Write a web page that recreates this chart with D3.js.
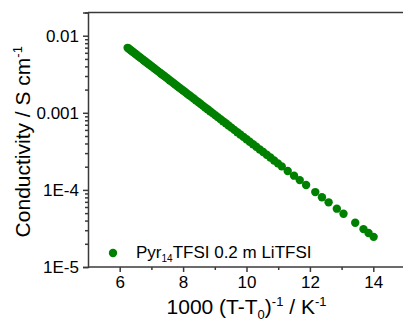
<!DOCTYPE html>
<html>
<head>
<meta charset="utf-8">
<script src="https://cdn.jsdelivr.net/npm/d3@7"></script>
<style>
  html, body { margin: 0; padding: 0; background: #fff; }
  svg { display: block; font-family: Arial, "Liberation Sans", sans-serif; }
</style>
</head>
<body>
<svg id="chart" width="403" height="322"></svg>
<script>
// Conductivity of Pyr14TFSI + 0.2 m LiTFSI vs. reciprocal (T - T0)
const invTemp = [
  6.250, 6.289, 6.329, 6.369, 6.410, 6.452, 6.494, 6.536, 6.579, 6.623,
  6.667, 6.711, 6.757, 6.803, 6.849, 6.897, 6.944, 6.993, 7.042, 7.092,
  7.143, 7.194, 7.246, 7.299, 7.353, 7.407, 7.463, 7.519, 7.576, 7.634,
  7.692, 7.752, 7.813, 7.874, 7.937, 8.000, 8.065, 8.130, 8.197, 8.264,
  8.333, 8.403, 8.475, 8.547, 8.621, 8.696, 8.772, 8.850, 8.929, 9.009,
  9.091, 9.174, 9.259, 9.346, 9.434, 9.524, 9.615, 9.709, 9.804, 9.901,
  10.000, 10.101, 10.204, 10.309, 10.417, 10.526, 10.638, 10.753, 10.870, 10.989,
  11.111, 11.30, 11.50, 11.68, 11.88, 12.17, 12.38, 12.59, 12.85,
  13.06, 13.43, 13.69, 13.85, 14.01
];
const conductivity = [
  0.00696, 0.00676, 0.00657, 0.00638, 0.00619, 0.00601, 0.00582, 0.00565, 0.00547, 0.00530,
  0.00514, 0.00497, 0.00481, 0.00465, 0.00450, 0.00434, 0.00420, 0.00405, 0.00391, 0.00377,
  0.00363, 0.00350, 0.00337, 0.00324, 0.00312, 0.00300, 0.00288, 0.00276, 0.00265, 0.00254,
  0.00244, 0.00233, 0.00223, 0.00213, 0.00204, 0.00195, 0.00186, 0.00177, 0.00169, 0.00161,
  0.00153, 0.00145, 0.00138, 0.00131, 0.00124, 0.00117, 0.00111, 0.00105, 0.000990, 0.000934,
  0.000880, 0.000829, 0.000779, 0.000731, 0.000686, 0.000642, 0.000601, 0.000561, 0.000524, 0.000488,
  0.000454, 0.000422, 0.000392, 0.000363, 0.000335, 0.000310, 0.000286, 0.000263, 0.000241, 0.000221,
  0.000202, 0.000176, 0.000153, 0.000134, 0.000116, 9.37e-5, 8.04e-5, 6.90e-5, 5.71e-5,
  4.90e-5, 3.75e-5, 3.10e-5, 2.76e-5, 2.46e-5
];
const xTicks = [6, 8, 10, 12, 14];
const xMinorTicks = [7, 9, 11, 13];
const yTicks = [1e-5, 1e-4, 1e-3, 1e-2];
const yTickLabels = ["1E-5", "1E-4", "0.001", "0.01"];

const svg = d3.select("#chart");
const margin = { left: 88, top: 12.5, right: -2, bottom: 55 };
const W = 403, H = 322;

const x = d3.scaleLinear().domain([5, 15]).range([margin.left, W - margin.right]);
const y = d3.scaleLog().domain([1e-5, 0.02]).range([H - margin.bottom, margin.top]);

const axisColor = "#3a3a3a";
const green = "#008000";

// frame: top line
svg.append("line")
  .attr("x1", margin.left).attr("x2", W)
  .attr("y1", margin.top).attr("y2", margin.top)
  .attr("stroke", axisColor).attr("stroke-width", 1.5);

// x axis
const xAxis = svg.append("g").attr("transform", `translate(0,${H - margin.bottom})`);
xAxis.call(d3.axisBottom(x).tickValues(xTicks).tickSize(5).tickPadding(4).tickFormat(d3.format("d")));
xAxis.append("g").call(d3.axisBottom(x).tickValues(xMinorTicks).tickSize(3).tickFormat(""))
  .select(".domain").remove();
xAxis.select(".domain").attr("d", `M${margin.left},0H${W + 5}`);

// y axis with minor ticks at 2..9 per decade
const minorY = [];
for (let e = -5; e <= -2; e++) for (let m = 2; m <= 9; m++) {
  const v = m * Math.pow(10, e);
  if (v <= 0.02) minorY.push(v);
}
const yAxis = svg.append("g").attr("transform", `translate(${margin.left},0)`);
yAxis.call(d3.axisLeft(y).tickValues(yTicks).tickSize(5).tickPadding(4)
  .tickFormat((d, i) => yTickLabels[i]));
yAxis.append("g").call(d3.axisLeft(y).tickValues(minorY).tickSize(3).tickFormat(""))
  .select(".domain").remove();

svg.selectAll(".domain, .tick line")
  .attr("stroke", axisColor).attr("stroke-width", 1.5);
svg.selectAll(".tick text")
  .attr("fill", "#000").style("font-size", "17px")
  .style("font-family", "Arial, 'Liberation Sans', sans-serif");

// data points
svg.append("g").selectAll("circle")
  .data(invTemp.map((v, i) => [v, conductivity[i]]))
  .join("circle")
  .attr("cx", d => x(d[0]))
  .attr("cy", d => y(d[1]))
  .attr("r", 4.2)
  .attr("fill", green);

// legend
svg.append("circle").attr("cx", 113).attr("cy", 253).attr("r", 4.2).attr("fill", green);
const leg = svg.append("text").attr("x", 136).attr("y", 257.5)
  .style("font-size", "17px").attr("fill", "#000");
leg.append("tspan").text("Pyr");
leg.append("tspan").attr("dy", 4).style("font-size", "10px").text("14");
leg.append("tspan").attr("dy", -4).text("TFSI 0.2 m LiTFSI");

// x title
const xt = svg.append("text").attr("x", (margin.left + W - margin.right) / 2).attr("y", 314)
  .attr("text-anchor", "middle").style("font-size", "21px").attr("fill", "#000");
xt.append("tspan").text("1000 (T-T");
xt.append("tspan").attr("dy", 5).style("font-size", "13px").text("0");
xt.append("tspan").attr("dy", -5).text(")");
xt.append("tspan").attr("dy", -8).style("font-size", "13px").text("-1");
xt.append("tspan").attr("dy", 8).text(" / K");
xt.append("tspan").attr("dy", -8).style("font-size", "13px").text("-1");

// y title
const yt = svg.append("text")
  .attr("transform", `translate(30,${(margin.top + H - margin.bottom) / 2 + 2}) rotate(-90)`)
  .attr("text-anchor", "middle").style("font-size", "21px").attr("fill", "#000");
yt.append("tspan").text("Conductivity / S cm");
yt.append("tspan").attr("dy", -8).style("font-size", "13px").text("-1");
</script>
</body>
</html>
